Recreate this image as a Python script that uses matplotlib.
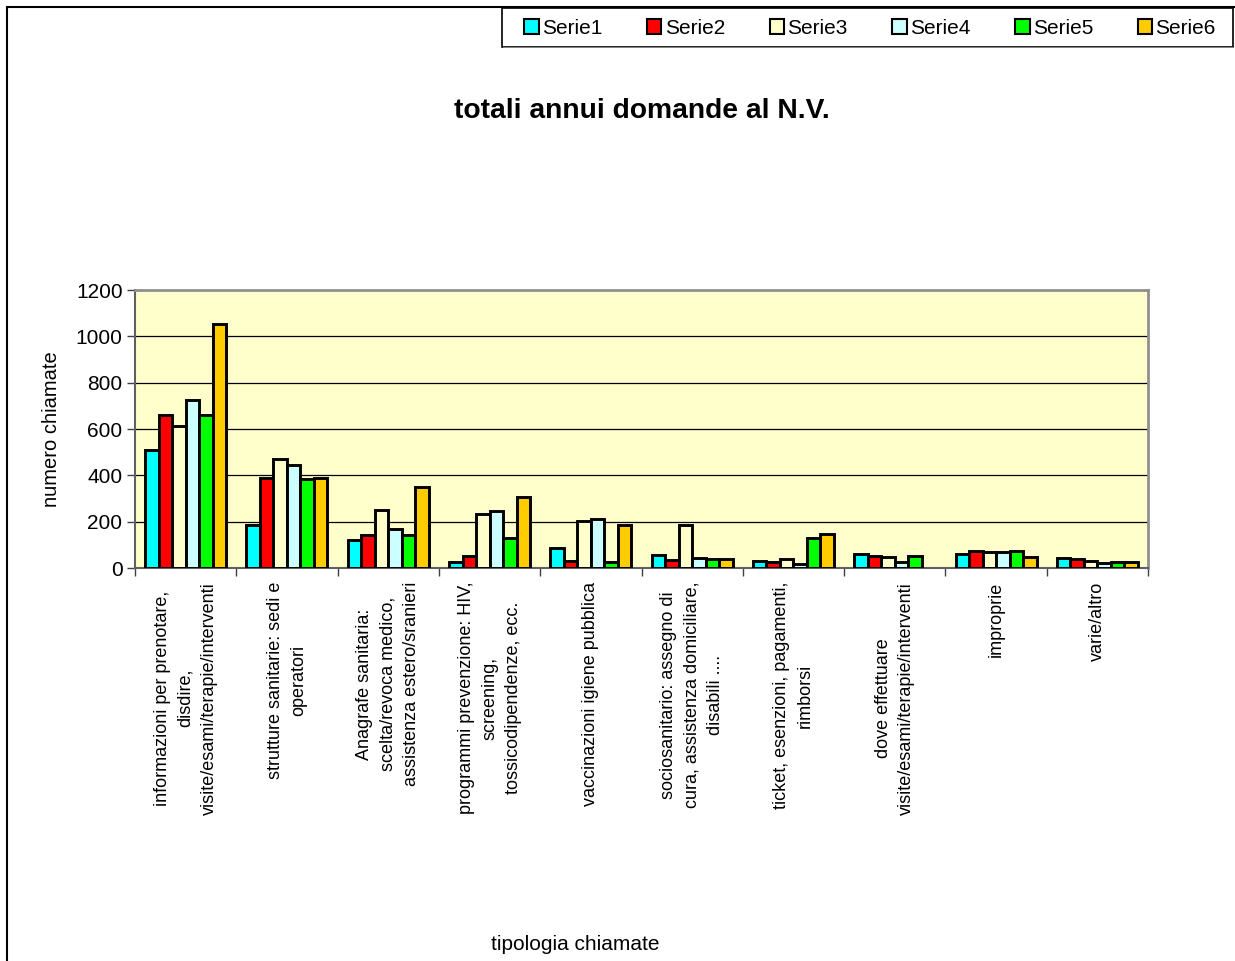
import numpy as np
import matplotlib
matplotlib.use("Agg")
import matplotlib.pyplot as plt
from matplotlib.patches import Rectangle

plt.rcParams['font.family'] = ['Liberation Sans', 'DejaVu Sans']

# categorie (etichette asse x)
categorie = [
    "informazioni per prenotare,\ndisdire,\nvisite/esami/terapie/interventi",
    "strutture sanitarie: sedi e\noperatori",
    "Anagrafe sanitaria:\nscelta/revoca medico,\nassistenza estero/sranieri",
    "programmi prevenzione: HIV,\nscreening,\ntossicodipendenze, ecc.",
    "vaccinazioni igiene pubblica",
    "sociosanitario: assegno di\ncura, assistenza domiciliare,\ndisabili ....",
    "ticket, esenzioni, pagamenti,\nrimborsi",
    "dove effettuare\nvisite/esami/terapie/interventi",
    "improprie",
    "varie/altro",
]

serie_nomi = ["Serie1", "Serie2", "Serie3", "Serie4", "Serie5", "Serie6"]

serie1 = [509, 187, 122, 27, 86, 56, 30, 60, 62, 45]
serie2 = [660, 390, 144, 53, 32, 36, 27, 52, 75, 39]
serie3 = [612, 470, 251, 233, 202, 187, 39, 48, 71, 30]
serie4 = [726, 445, 169, 248, 210, 42, 17, 27, 71, 23]
serie5 = [660, 386, 144, 128, 27, 37, 128, 53, 75, 24]
serie6 = [1055, 389, 349, 307, 187, 40, 148, np.nan, 49, 27]

colori = ["#00FFFF", "#FF0000", "#FFFFCC", "#CCFFFF", "#00FF00", "#FFCC00"]

fig = plt.figure(figsize=(12.35, 9.61), dpi=100)
ax = fig.add_axes([135/1235, 1-568/961, (1148-135)/1235, (568-290)/961])
ax.set_facecolor("#FFFFCC")

x = np.arange(len(categorie))
w = 0.8 / 6
dati = [serie1, serie2, serie3, serie4, serie5, serie6]
for i, (vals, col, nome) in enumerate(zip(dati, colori, serie_nomi)):
    ax.bar(x - 0.4 + w * (i + 0.5), vals, width=w, color=col,
           edgecolor="black", linewidth=2.1, label=nome, zorder=3)

ax.set_xlim(-0.5, len(categorie) - 0.5)
ax.set_ylim(0, 1200)
ax.set_yticks(range(0, 1201, 200))
ax.yaxis.grid(True, color="black", linewidth=0.9, zorder=1)
ax.set_axisbelow(True)
ax.tick_params(axis="y", labelsize=15, length=6, width=1, color="#404040", pad=3)

ax.set_xticks(x)
ax.set_xticklabels(categorie, rotation=90, fontsize=13, linespacing=1.5)
ax.set_xticks(np.arange(-0.5, len(categorie)), minor=True)
ax.tick_params(axis="x", which="major", length=0, pad=10)
ax.tick_params(axis="x", which="minor", length=6, width=1, color="#404040")

for s in ["top", "right"]:
    ax.spines[s].set_color("#909090")
    ax.spines[s].set_linewidth(2)
ax.spines["left"].set_color("#606060")
ax.spines["bottom"].set_color("#606060")
ax.spines["left"].set_linewidth(1.5)
ax.spines["bottom"].set_linewidth(1.5)

ax.set_ylabel("numero chiamate", fontsize=14.5)
ax.yaxis.set_label_coords(-0.073, 0.5)

fig.text(642/1235, 1-111/961, "totali annui domande al N.V.", fontsize=20.3,
         fontweight="bold", ha="center", va="center")
fig.text(575/1235, 1-944/961, "tipologia chiamate", fontsize=15,
         ha="center", va="center")

# bordo area grafico
fig.patches.append(Rectangle((7/1235, -0.05), 1.1, 1-7/961+0.05,
                             transform=fig.transFigure, fill=False,
                             edgecolor="black", linewidth=1.5))

# cornice legenda
fig.patches.append(Rectangle((502/1235, 1-47/961), 731/1235, 39/961,
                             transform=fig.transFigure, fill=True,
                             facecolor="white", edgecolor="black",
                             linewidth=1.2, zorder=5))
fig.patches.append(Rectangle((503/1235, 1-48/961), 731/1235, 1/961,
                             transform=fig.transFigure, facecolor="#808080",
                             edgecolor="none", zorder=5))
leg = fig.legend(loc="center", ncol=6, mode="expand",
                 bbox_to_anchor=(520/1235, 1-46/961, 700/1235, 35/961),
                 fontsize=15, frameon=False,
                 handlelength=0.7, handleheight=0.7, handletextpad=0.15,
                 borderaxespad=0, borderpad=0.2, columnspacing=1.0)
leg.set_zorder(6)
for h in leg.legend_handles:
    h.set_linewidth(1.5)

fig.savefig("out.png", dpi=100)
